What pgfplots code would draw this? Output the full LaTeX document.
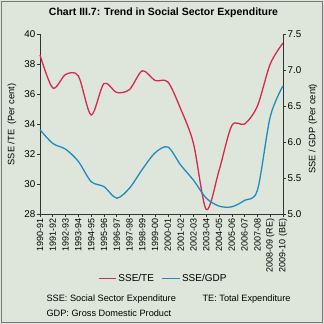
\documentclass[border=0pt]{standalone}
\usepackage{fontspec}
\setmainfont{Liberation Sans}
\usepackage{pgfplots}
\pgfplotsset{compat=1.18}
\definecolor{bg}{RGB}{222,230,219}
\definecolor{sred}{RGB}{215,40,75}
\definecolor{sblue}{RGB}{30,140,190}
\definecolor{framec}{RGB}{120,120,120}
\pgfplotstableread{
i red blue
0 38.6 6.17
1 36.4 5.98
2 37.3 5.90
3 37.2 5.73
4 34.6 5.45
5 36.7 5.38
6 36.1 5.22
7 36.3 5.36
8 37.55 5.62
9 36.9 5.85
10 36.8 5.93
11 35.0 5.68
12 32.7 5.47
13 28.3 5.22
14 30.9 5.11
15 33.9 5.10
16 34.0 5.19
17 35.2 5.33
18 38.0 6.35
19 39.4 6.78
}\datatable
\begin{document}
\begin{tikzpicture}[x=1pt,y=1pt]
\path[use as bounding box] (0,0) rectangle (324,324);
\fill[bg] (0,0) rectangle (324,324);
\draw[framec,line width=1.5pt] (1.5,1.5) rectangle (322.5,322.5);
\node[font=\bfseries\fontsize{10.5}{12}\selectfont] at (163.5,311) {Chart III.7: Trend in Social Sector Expenditure};
\node[rotate=90,font=\fontsize{9.3}{11}\selectfont] at (12,199.5) {SSE /TE\ \ (Per cent)};
\node[rotate=90,font=\fontsize{9.3}{11}\selectfont] at (313,195) {SSE / GDP (Per cent)};
\node[anchor=west,font=\fontsize{9.2}{11}\selectfont] at (43,25) {SSE: Social Sector Expenditure};
\node[anchor=west,font=\fontsize{9.2}{11}\selectfont] at (199,25) {TE: Total Expenditure};
\node[anchor=west,font=\fontsize{9.2}{11}\selectfont] at (43,11) {GDP: Gross Domestic Product};
\begin{axis}[at={(40pt,110pt)}, anchor=south west, scale only axis,
  width=243pt, height=180pt, xmin=0, xmax=19, ymin=28, ymax=40,
  axis y line*=left, axis x line*=bottom, axis line style={-, black!80, line width=0.8pt},
  xtick={0,...,19},
  xticklabels={1990-91,1991-92,1992-93,1993-94,1994-95,1995-96,1996-97,1997-98,1998-99,1999-00,2000-01,2001-02,2002-03,2003-04,2004-05,2005-06,2006-07,2007-08,2008-09 (RE),2009-10 (BE)},
  x tick label style={rotate=90, anchor=east, font=\fontsize{9}{10}\selectfont, inner sep=1.5pt},
  ytick={28,30,...,40},
  y tick label style={font=\fontsize{9.8}{11}\selectfont, inner sep=1.5pt},
  /pgf/number format/assume math mode=true,
  tick align=outside, major tick length=3pt, tick style={black!80, line width=0.6pt},
  clip=false]
\addplot[sred, line width=1.3pt, smooth] table[x=i, y=red] {\datatable};
\end{axis}
\begin{axis}[at={(40pt,110pt)}, anchor=south west, scale only axis,
  width=243pt, height=180pt, xmin=0, xmax=19, ymin=5, ymax=7.5,
  axis y line*=right, axis x line=none, axis line style={-, black!80, line width=0.8pt},
  ytick={5,5.5,...,7.5},
  yticklabel style={/pgf/number format/fixed, /pgf/number format/fixed zerofill, /pgf/number format/precision=1},
  y tick label style={font=\fontsize{9.8}{11}\selectfont, inner sep=1.5pt},
  /pgf/number format/assume math mode=true,
  tick align=outside, major tick length=3pt, tick style={black!80, line width=0.6pt},
  legend style={at={(0.508,-0.361)}, anchor=center, draw=none, fill=none,
    legend columns=2, font=\fontsize{10}{12}\selectfont,
    /tikz/every even column/.append style={column sep=6pt}},
  legend image post style={line width=1pt},
  clip=false]
\addlegendimage{sred, line width=1.3pt}
\addlegendentry{SSE/TE}
\addplot[sblue, line width=1.3pt, smooth] table[x=i, y=blue] {\datatable};
\addlegendentry{SSE/GDP}
\end{axis}
\end{tikzpicture}
\end{document}
